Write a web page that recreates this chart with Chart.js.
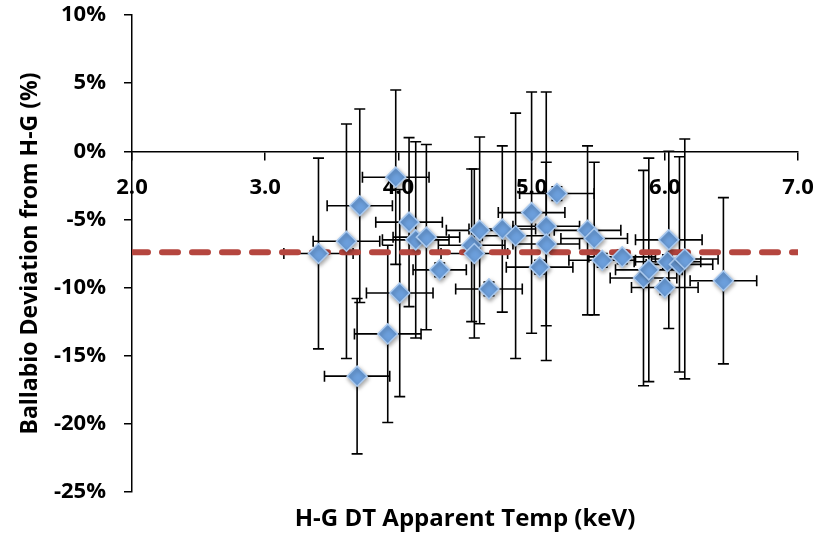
<!DOCTYPE html>
<html>
<head>
<meta charset="utf-8">
<script src="https://cdn.jsdelivr.net/npm/chart.js@4.4.1/dist/chart.umd.min.js"></script>
<style>
  html, body { margin: 0; padding: 0; background: #fff; }
  #wrap { width: 824px; height: 534px; }
</style>
</head>
<body>
<div id="wrap"><canvas id="chart" width="824" height="534"></canvas></div>
<script>
// H-G DT apparent temperature (keV) and its error
const temps = [3.40, 3.61, 3.71, 3.69, 3.92, 3.98, 4.01, 4.08, 4.13, 4.21, 4.31, 4.55, 4.57, 4.61, 4.68, 4.78, 4.88,
  5.00, 5.06, 5.11, 5.11, 5.19, 5.42, 5.47, 5.53, 5.68, 5.84, 5.88, 6.00, 6.02, 6.03, 6.11, 6.15, 6.44];
const tempErr = [0.26, 0.25, 0.245, 0.245, 0.25, 0.25, 0.25, 0.25, 0.25, 0.25, 0.2, 0.25, 0.25, 0.25, 0.25, 0.25, 0.25,
  0.25, 0.25, 0.25, 0.25, 0.28, 0.25, 0.25, 0.25, 0.25, 0.25, 0.25, 0.25, 0.25, 0.25, 0.25, 0.25, 0.25];
// Ballabio deviation from H-G (%) and its error
const deviation = [-7.5, -6.6, -4.0, -16.5, -13.4, -1.9, -10.4, -5.2, -6.5, -6.3, -8.7, -6.9, -7.5, -5.8, -10.1, -5.7, -6.2,
  -4.5, -8.5, -5.5, -6.8, -3.1, -5.8, -6.4, -8.0, -7.75, -9.3, -8.7, -10.0, -8.1, -6.5, -8.3, -7.9, -9.5];
const devErr = [7.0, 8.6, 7.1, 5.7, 6.5, 6.4, 7.6, 6.2, 7.2, 6.8, 0.5, 5.6, 6.2, 6.85, 0.5, 6.1, 9.0,
  8.85, 0.5, 9.85, 6.0, 0.5, 6.2, 5.6, 0.5, 0.5, 7.9, 8.2, 0.5, 0.5, 6.5, 7.9, 8.8, 6.1];
// mean deviation line
const meanLineX = [2.0, 7.0];
const meanLineY = [-7.4, -7.4];

const xTicks = [2, 3, 4, 5, 6, 7];
const yTicks = [10, 5, 0, -5, -10, -15, -20, -25];

const tickFont = { family: "'Open Sans', sans-serif", size: 22, weight: 'bold' };

// draws x and y error bars behind the markers
const errorBars = {
  id: 'errorBars',
  beforeDatasetsDraw(chart) {
    const ctx = chart.ctx;
    const x = chart.scales.x;
    const y = chart.scales.y;
    const cap = 5.5;
    ctx.save();
    ctx.strokeStyle = '#000';
    ctx.lineWidth = 1.6;
    for (let i = 0; i < temps.length; i++) {
      const px = x.getPixelForValue(temps[i]);
      const py = y.getPixelForValue(deviation[i]);
      const x0 = x.getPixelForValue(temps[i] - tempErr[i]);
      const x1 = x.getPixelForValue(temps[i] + tempErr[i]);
      const y0 = y.getPixelForValue(deviation[i] + devErr[i]);
      const y1 = y.getPixelForValue(deviation[i] - devErr[i]);
      ctx.beginPath();
      ctx.moveTo(px, y0); ctx.lineTo(px, y1);
      ctx.moveTo(px - cap, y0); ctx.lineTo(px + cap, y0);
      ctx.moveTo(px - cap, y1); ctx.lineTo(px + cap, y1);
      ctx.moveTo(x0, py); ctx.lineTo(x1, py);
      ctx.moveTo(x0, py - cap); ctx.lineTo(x0, py + cap);
      ctx.moveTo(x1, py - cap); ctx.lineTo(x1, py + cap);
      ctx.stroke();
    }
    ctx.restore();
  }
};

// soft shadow under the diamonds
const markerShadow = {
  id: 'markerShadow',
  beforeDatasetDraw(chart, args) {
    if (args.index !== 0) return;
    const ctx = chart.ctx;
    ctx.save();
    ctx.shadowColor = 'rgba(0,0,0,0.35)';
    ctx.shadowBlur = 4;
    ctx.shadowOffsetX = 1;
    ctx.shadowOffsetY = 2;
  },
  afterDatasetDraw(chart, args) {
    if (args.index !== 0) return;
    chart.ctx.restore();
  }
};

const ctx = document.getElementById('chart').getContext('2d');
const myChart = new Chart(ctx, {
  type: 'scatter',
  data: {
    datasets: [
      {
        label: 'Deviation',
        data: temps.map((t, i) => ({ x: t, y: deviation[i] })),
        pointStyle: 'rectRot',
        pointRadius: 10,
        pointHoverRadius: 10,
        backgroundColor: '#6c9fdc',
        borderColor: '#a9c9ef',
        borderWidth: 1.5,
        order: 0
      },
      {
        type: 'line',
        label: 'Mean',
        data: meanLineX.map((t, i) => ({ x: t, y: meanLineY[i] })),
        borderColor: '#b5463f',
        borderWidth: 6,
        borderDash: [16, 14],
        borderCapStyle: 'round',
        pointRadius: 0,
        fill: false,
        order: 1
      }
    ]
  },
  options: {
    responsive: false,
    animation: false,
    layout: { autoPadding: false, padding: { top: 15, right: 26, bottom: 0, left: 0 } },
    plugins: {
      legend: { display: false },
      tooltip: { enabled: false }
    },
    scales: {
      x: {
        type: 'linear',
        position: { y: 0 },
        min: 2,
        max: 7,
        afterFit: (scale) => { scale.paddingLeft = 0; scale.paddingRight = 0; },
        afterBuildTicks: (scale) => { scale.ticks = xTicks.map(v => ({ value: v })); },
        ticks: {
          color: '#000',
          font: tickFont,
          padding: 15,
          maxRotation: 0,
          callback: (v) => Number(v).toFixed(1)
        },
        grid: { drawOnChartArea: false, drawTicks: true, tickLength: 8, color: '#000', lineWidth: 1.5 },
        border: { display: true, color: '#000', width: 1.5 }
      },
      xTitle: {
        type: 'linear',
        position: 'bottom',
        afterFit: (scale) => { scale.height = 42; },
        ticks: { display: false },
        grid: { display: false },
        border: { display: false },
        title: {
          display: true,
          text: 'H-G DT Apparent Temp (keV)',
          color: '#000',
          font: { family: "'Open Sans', sans-serif", size: 24, weight: 'bold' },
          padding: { top: 0, bottom: 0 }
        }
      },
      y: {
        type: 'linear',
        position: 'left',
        min: -25,
        max: 10,
        afterFit: (scale) => {
          scale.width = 132;
          scale.paddingTop = 0;
          scale.paddingBottom = 0;
        },
        afterBuildTicks: (scale) => { scale.ticks = yTicks.map(v => ({ value: v })); },
        ticks: {
          color: '#000',
          font: tickFont,
          padding: 18,
          callback: (v) => v + '%'
        },
        grid: { drawOnChartArea: false, drawTicks: true, tickLength: 8, color: '#000', lineWidth: 1.5 },
        border: { display: true, color: '#000', width: 1.5 },
        title: {
          display: true,
          text: 'Ballabio Deviation from H-G (%)',
          color: '#000',
          font: { family: "'Open Sans', sans-serif", size: 23, weight: 'bold' },
          padding: { top: 17, bottom: 0 }
        }
      }
    }
  },
  plugins: [errorBars, markerShadow]
});
</script>
</body>
</html>
